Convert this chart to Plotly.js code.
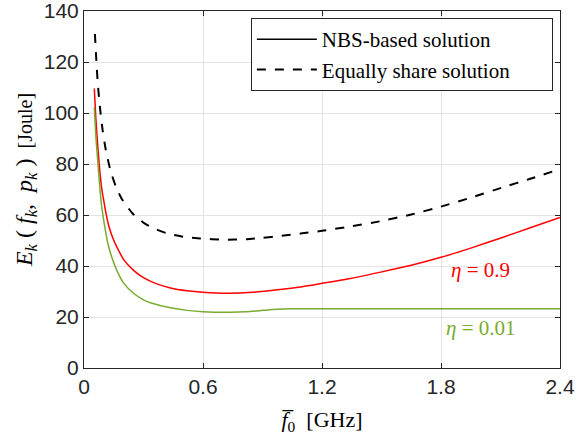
<!DOCTYPE html>
<html>
<head>
<meta charset="utf-8">
<script src="https://cdn.plot.ly/plotly-3.0.1.min.js"></script>
<style>html,body{margin:0;padding:0;background:#fff;}#chart{width:578px;height:438px;}</style>
</head>
<body>
<div id="chart"></div>
<script>
// Equally share solution (black dashed)
const eqX = [0.055,0.062,0.069,0.08,0.094,0.11,0.133,0.16,0.19,0.245,0.305,0.36,0.42,0.5,0.587,0.7,0.82,0.9,0.987,1.1,1.2,1.35,1.49,1.65,1.8,1.95,2.11,2.25,2.4];
const eqY = [131,121,112,102.5,93.2,85.5,77.6,71.3,66.4,60.6,56.7,54.5,52.8,51.5,50.8,50.3,50.5,51,51.8,52.8,53.8,55.6,57.5,60.2,63.3,66.8,70.8,74.2,78];
// NBS-based solution, eta = 0.9 (red)
const nbs09X = [0.052,0.06,0.07,0.08,0.09,0.1,0.111,0.125,0.153,0.2,0.25,0.3,0.36,0.436,0.52,0.6,0.73,0.85,0.987,1.1,1.2,1.35,1.49,1.65,1.8,1.95,2.11,2.25,2.4];
const nbs09Y = [109.6,97.5,86.5,77,70,65.5,60.6,55.7,49.5,42.5,38.3,35.4,33.2,31.4,30.3,29.7,29.3,29.7,30.8,31.9,33.2,35.2,37.5,40.3,43.4,47,51.2,55,59];
// NBS-based solution, eta = 0.01 (green)
const nbs001X = [0.052,0.06,0.066,0.078,0.086,0.094,0.105,0.119,0.14,0.17,0.2,0.25,0.3,0.335,0.436,0.52,0.6,0.735,0.82,0.903,0.97,1.05,1.2,1.6,2.0,2.4];
const nbs001Y = [102.3,90.5,84.5,72.5,65.5,60.6,55.2,49.3,43.4,37.5,33.3,29.3,26.7,25.6,23.6,22.6,22.1,21.9,22.1,22.6,23,23.2,23.2,23.2,23.2,23.2];

const xTicks = [0,0.6,1.2,1.8,2.4];
const xTickText = ['0','0.6','1.2','1.8','2.4'];
const yTicks = [0,20,40,60,80,100,120,140];

const legendNames = ['NBS-based solution','Equally share solution'];
const etaLabels = ['<i>η</i> = 0.9','<i>η</i> = 0.01'];
const etaPos = [[2.0,38.4],[2.0,15.7]];

const RED = '#ff0000', GREEN = '#77ac30';
const serif = 'Liberation Serif';
const sans = 'Liberation Sans';
const PAD = '&nbsp;&nbsp;&nbsp;&nbsp;&nbsp;&nbsp;&nbsp;';

const traces = [
  {x:nbs09X, y:nbs09Y, mode:'lines', line:{color:RED,width:1.5,shape:'spline',smoothing:0.5}, showlegend:false, hoverinfo:'skip'},
  {x:nbs001X, y:nbs001Y, mode:'lines', line:{color:GREEN,width:1.5,shape:'spline',smoothing:0.5}, showlegend:false, hoverinfo:'skip'},
  {x:[null], y:[null], mode:'lines', name:legendNames[0]+PAD, line:{color:'#000',width:1.5}, showlegend:true},
  {x:eqX, y:eqY, mode:'lines', name:legendNames[1]+PAD, line:{color:'#000',width:2,dash:'dash',shape:'spline',smoothing:0.5}, showlegend:true}
];

const yTitle = '&nbsp;&nbsp;&nbsp;&nbsp;<span style="font-size:24px"><i>E<sub>k</sub></i>&nbsp;(&nbsp;<i>f<sub>k</sub></i>,&nbsp;&nbsp;<i>p<sub>k</sub></i>&nbsp;)</span>&nbsp;&nbsp;[Joule]';

const layout = {
  width:578, height:438,
  margin:{l:84,r:18,t:11,b:70},
  paper_bgcolor:'#fff', plot_bgcolor:'#fff',
  showlegend:true,
  legend:{x:0.985,xanchor:'right',y:0.98,yanchor:'top',bgcolor:'#fff',bordercolor:'#262626',borderwidth:1,
          itemwidth:60,font:{family:serif,size:21,color:'#000'},tracegroupgap:0},
  xaxis:{range:[0,2.4],tickvals:xTicks,ticktext:xTickText,showgrid:true,gridcolor:'#e3e3e3',gridwidth:1,
         zeroline:false,showline:true,linecolor:'#262626',linewidth:1,mirror:'allticks',ticks:'inside',ticklen:5,
         tickcolor:'#262626',tickfont:{family:sans,size:21,color:'#262626'},ticklabeloverflow:'allow',
         title:{text:'<i>f̅</i><sub>0</sub>  [GHz]',font:{family:serif,size:22,color:'#000'},standoff:14}},
  yaxis:{range:[0,140],tickvals:yTicks,showgrid:true,gridcolor:'#e3e3e3',gridwidth:1,
         zeroline:false,showline:true,linecolor:'#262626',linewidth:1,mirror:'allticks',ticks:'inside',ticklen:5,
         tickcolor:'#262626',tickfont:{family:sans,size:21,color:'#262626'},ticklabeloverflow:'allow',
         title:{text:yTitle,font:{family:serif,size:20,color:'#000'},standoff:5}},
  annotations:[
    {x:etaPos[0][0],y:etaPos[0][1],xref:'x',yref:'y',text:etaLabels[0],showarrow:false,font:{family:serif,size:21,color:RED}},
    {x:etaPos[1][0],y:etaPos[1][1],xref:'x',yref:'y',text:etaLabels[1],showarrow:false,font:{family:serif,size:21,color:GREEN}}
  ]
};
Plotly.newPlot('chart',traces,layout,{displayModeBar:false});
</script>
</body>
</html>
